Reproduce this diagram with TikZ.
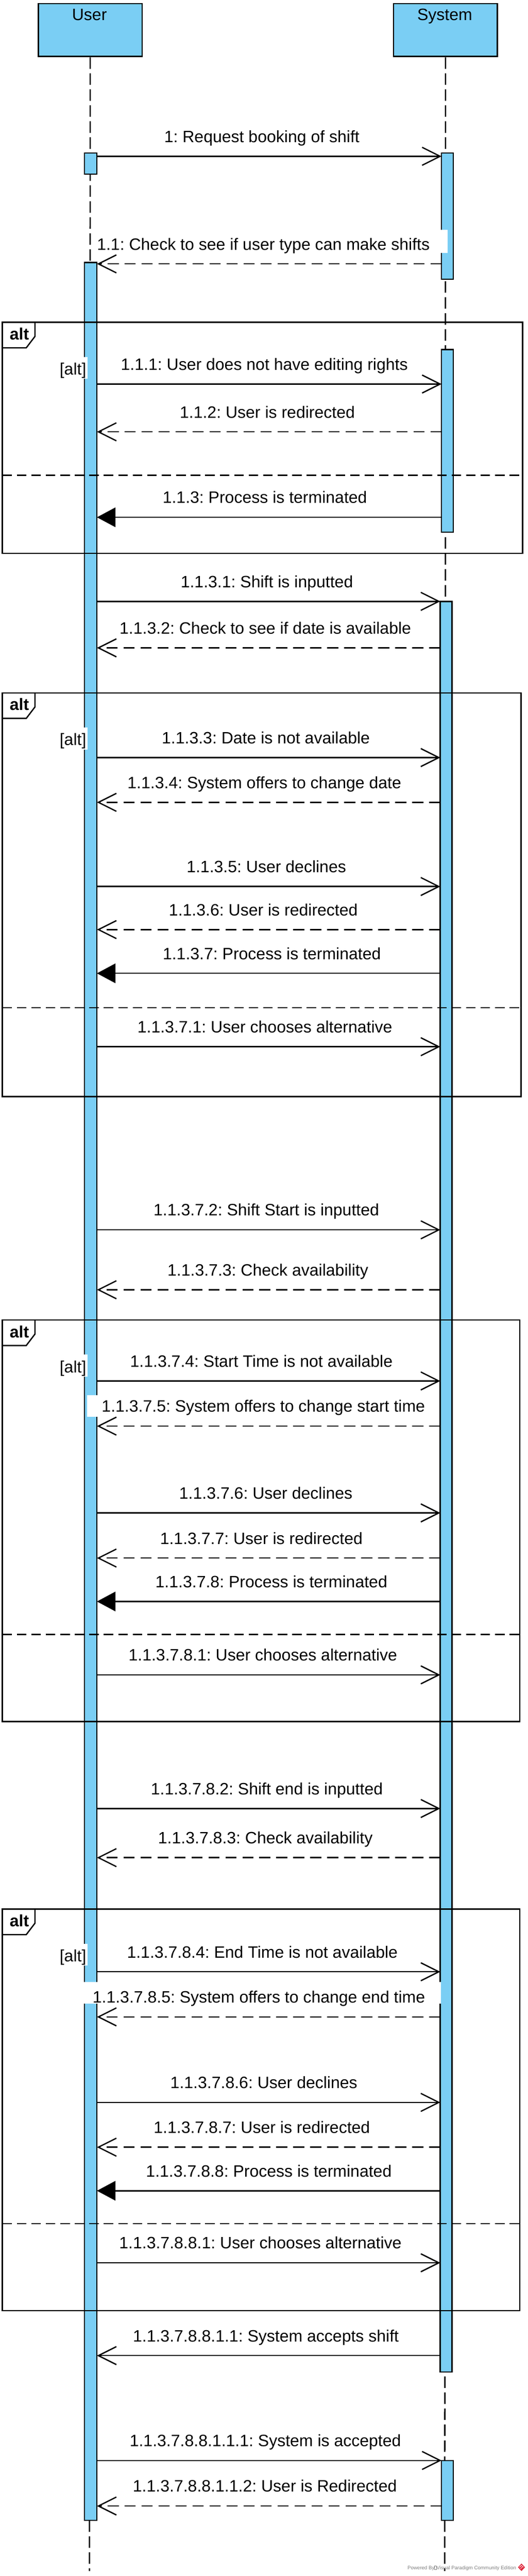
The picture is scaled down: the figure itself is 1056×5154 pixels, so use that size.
\documentclass[tikz,border=0pt]{standalone}
\usepackage{fontspec}
\setmainfont{Liberation Sans}
\usetikzlibrary{arrows.meta}
\definecolor{actblue}{RGB}{122,206,244}
\definecolor{vpgray}{RGB}{128,128,128}
\definecolor{vpred}{RGB}{222,40,60}
\newcommand{\actbox}[5]{%
  \node[actbar,anchor=north west,minimum width={(#4-#2)*1pt},minimum height={(#5-#3)*1pt}] (#1) at (#2,#3) {};}
\newcommand{\seqmsg}[7]{%
  \coordinate (#1s) at (#3,#2);
  \coordinate (#1e) at (#4,#2);
  \draw[#5] (#1s) -- (#1e);
  \node[msglabel] (#1l) at (#6,#2-28) {#7};}
\newcommand{\altframe}[5]{%
  \node[frame,anchor=north west,minimum width={(#4-4.7)*1pt},minimum height={(#3-#2)*1pt}] (#1) at (4.7,#2) {};
  \draw[frame] (4.7,#2+51) -- (52.5,#2+51) -- (70,#2+28) -- (70,#2);
  \node[altlabel] (#1tag) at (38.7,#2+35) {alt};
  \coordinate (#1sepL) at (4.7,#5);
  \coordinate (#1sepR) at (#4,#5);
  \draw[sepline] (#1sepL) -- (#1sepR);
  \fill[white] (120,#2+69) rectangle (175,#2+113);
  \node[guardlabel] (#1guard) at (146,#2+105) {[alt]};}
\begin{document}
\frenchspacing
\begin{tikzpicture}[x=1pt,y=-1pt,
  lifebox/.style={draw=black,line width=3pt,fill=actblue,inner sep=0pt},
  lifeline/.style={line width=2.6pt,dash pattern=on 23pt off 9pt},
  actbar/.style={draw=black,line width=2.6pt,fill=actblue,inner sep=0pt,outer sep=0pt},
  frame/.style={draw=black,line width=2.6pt,inner sep=0pt,outer sep=0pt},
  sepline/.style={line width=2.6pt,dash pattern=on 19pt off 10pt},
  syncmsg/.style={line width=2.6pt,-{Straight Barb[length=36pt,width=36pt]}},
  replymsg/.style={line width=2.6pt,dash pattern=on 22pt off 12pt,-{Straight Barb[length=36pt,width=36pt]}},
  termmsg/.style={line width=2.6pt,-{Triangle[length=37pt,width=39pt]}},
  msglabel/.style={font=\fontsize{33}{40}\selectfont\frenchspacing,anchor=base,inner sep=0pt},
  titlelabel/.style={font=\fontsize{33}{40}\selectfont,anchor=base,inner sep=0pt},
  altlabel/.style={font=\bfseries\fontsize{33}{40}\selectfont,anchor=base,inner sep=0pt},
  guardlabel/.style={font=\fontsize{33}{40}\selectfont,anchor=base,inner sep=0pt},
  labelbg/.style={fill=white,draw=none},
  powered/.style={font=\fontsize{10}{12}\selectfont,text=vpgray,anchor=base east,inner sep=0pt}
]
\useasboundingbox (0,0) rectangle (1056,5154);
\fill[white] (0,0) rectangle (1056,5154);

% lifeline heads
\node[lifebox,anchor=north west,minimum width=208pt,minimum height=106pt] (user) at (75,5.7) {};
\node[lifebox,anchor=north west,minimum width=208pt,minimum height=106pt] (system) at (786,5.7) {};
\node[titlelabel] (usertitle) at (179,41) {User};
\node[titlelabel] (systemtitle) at (890,41) {System};

% lifelines
\coordinate (userend) at (179,5144);
\coordinate (systemend) at (890,5144);
\draw[lifeline] (user.south) -- (userend);
\draw[lifeline] (system.south) -- (systemend);

% activations
\actbox{u1}{169}{306}{194}{348.6}
\actbox{s1}{883.6}{306}{907.2}{558.7}
\actbox{u2}{169}{525}{194}{5042.7}
\actbox{s2}{883.6}{699.5}{907.2}{1065}
\actbox{s3}{881}{1203.2}{904.5}{4745.8}
\actbox{s4}{883.6}{4922.8}{907.2}{5042.7}

% combined fragments
\altframe{altA}{645}{1107}{1046}{951}
\altframe{altB}{1386.4}{2194}{1042.6}{2016.1}
\altframe{altC}{2641.1}{3444.6}{1040}{3270.2}
\altframe{altD}{3819.8}{4623}{1040}{4448.9}

% label backgrounds that cover bars
\path[labelbg] (195.3,460) rectangle (895.8,506);
\path[labelbg] (173.8,2791) rectangle (879.5,2835);
\path[labelbg] (168.4,3965) rectangle (882,4009);

% messages
\seqmsg{m1}{312.7}{194}{883.6}{syncmsg}{524}{1: Request booking of shift}
\seqmsg{m11}{528}{883.6}{194}{replymsg}{527}{1.1: Check to see if user type can make shifts}
\seqmsg{m111}{768.4}{194}{883.6}{syncmsg}{529}{1.1.1: User does not have editing rights}
\seqmsg{m112}{864}{883.6}{194}{replymsg}{535}{1.1.2: User is redirected}
\seqmsg{m113}{1035}{883.6}{194}{termmsg}{530}{1.1.3: Process is terminated}
\seqmsg{m1131}{1203.2}{194}{881}{syncmsg}{534}{1.1.3.1: Shift is inputted}
\seqmsg{m1132}{1296.2}{881}{194}{replymsg}{531}{1.1.3.2: Check to see if date is available}
\seqmsg{m1133}{1515.7}{194}{881}{syncmsg}{532}{1.1.3.3: Date is not available}
\seqmsg{m1134}{1605.3}{881}{194}{replymsg}{529}{1.1.3.4: System offers to change date}
\seqmsg{m1135}{1773.7}{194}{881}{syncmsg}{533}{1.1.3.5: User declines}
\seqmsg{m1136}{1859.9}{881}{194}{replymsg}{527}{1.1.3.6: User is redirected}
\seqmsg{m1137}{1947.4}{881}{194}{termmsg}{544}{1.1.3.7: Process is terminated}
\seqmsg{m11371}{2094.2}{194}{881}{syncmsg}{530}{1.1.3.7.1: User chooses alternative}
\seqmsg{m11372}{2460.6}{194}{881}{syncmsg}{533}{1.1.3.7.2: Shift Start is inputted}
\seqmsg{m11373}{2580.5}{881}{194}{replymsg}{536}{1.1.3.7.3: Check availability}
\seqmsg{m11374}{2763}{194}{881}{syncmsg}{523}{1.1.3.7.4: Start Time is not available}
\seqmsg{m11375}{2853.3}{881}{194}{replymsg}{527}{1.1.3.7.5: System offers to change start time}
\seqmsg{m11376}{3027}{194}{881}{syncmsg}{532}{1.1.3.7.6: User declines}
\seqmsg{m11377}{3117.3}{881}{194}{replymsg}{523}{1.1.3.7.7: User is redirected}
\seqmsg{m11378}{3204.2}{881}{194}{termmsg}{543}{1.1.3.7.8: Process is terminated}
\seqmsg{m113781}{3351}{194}{881}{syncmsg}{526}{1.1.3.7.8.1: User chooses alternative}
\seqmsg{m113782}{3618.4}{194}{881}{syncmsg}{534}{1.1.3.7.8.2: Shift end is inputted}
\seqmsg{m113783}{3716.7}{881}{194}{replymsg}{531}{1.1.3.7.8.3: Check availability}
\seqmsg{m113784}{3945}{194}{881}{syncmsg}{525}{1.1.3.7.8.4: End Time is not available}
\seqmsg{m113785}{4035.3}{881}{194}{replymsg}{518}{1.1.3.7.8.5: System offers to change end time}
\seqmsg{m113786}{4206.4}{194}{881}{syncmsg}{528}{1.1.3.7.8.6: User declines}
\seqmsg{m113787}{4296}{881}{194}{replymsg}{524}{1.1.3.7.8.7: User is redirected}
\seqmsg{m113788}{4383.2}{881}{194}{termmsg}{538}{1.1.3.7.8.8: Process is terminated}
\seqmsg{m1137881}{4527.3}{194}{881}{syncmsg}{521}{1.1.3.7.8.8.1: User chooses alternative}
\seqmsg{m11378811}{4713}{881}{194}{syncmsg}{532}{1.1.3.7.8.8.1.1: System accepts shift}
\seqmsg{m113788111}{4922.8}{194}{883.6}{syncmsg}{531}{1.1.3.7.8.8.1.1.1: System is accepted}
\seqmsg{m113788112}{5013.9}{883.6}{194}{replymsg}{530}{1.1.3.7.8.8.1.1.2: User is Redirected}

% footer
\node[powered] (poweredby) at (1033,5141) {Powered By{\setlength{\fboxsep}{0pt}\setlength{\fboxrule}{0.3pt}\fbox{\rule{0pt}{7pt}\hspace{3.5pt}}}Visual Paradigm Community Edition};
\fill[vpred] (1043.5,5129) -- (1050.5,5136.5) -- (1043.5,5144) -- (1036.5,5136.5) -- cycle;
\draw[white,line width=0.8pt] (1039.5,5136.5) -- (1043.5,5132.5) -- (1047.5,5136.5);
\draw[white,line width=0.8pt] (1041.5,5139.5) -- (1045.5,5135.5);
\end{tikzpicture}
\end{document}
